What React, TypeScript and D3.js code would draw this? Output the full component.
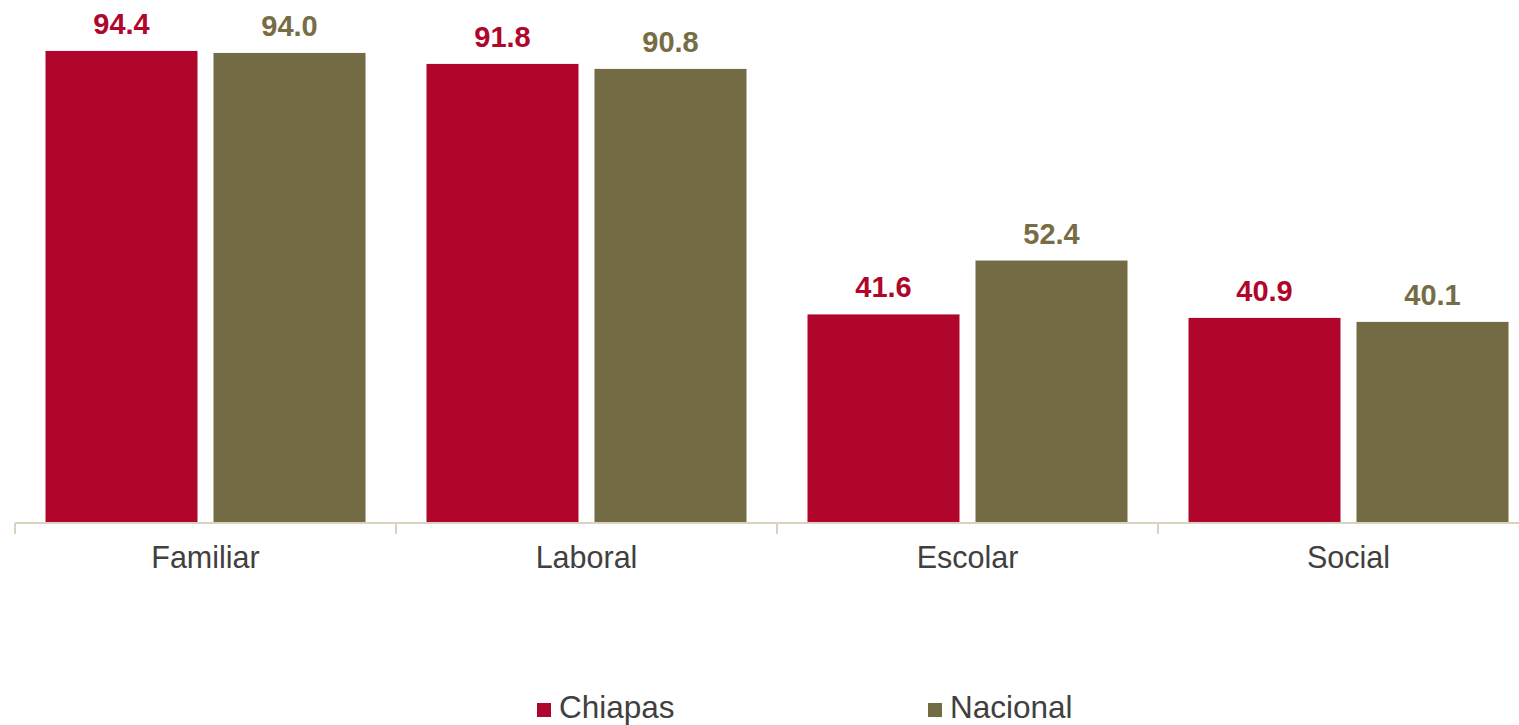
import React from "react";
import * as d3 from "d3";

const categories = ["Familiar", "Laboral", "Escolar", "Social"];
const seriesNames = ["Chiapas", "Nacional"];
const chiapas = [94.4, 91.8, 41.6, 40.9];
const nacional = [94.0, 90.8, 52.4, 40.1];
const seriesColors = ["#b0062c", "#736b43"];
const labelColors = ["#b0062c", "#766d45"];

const W = 1519;
const H = 725;
const FONT = "'Liberation Sans', Arial, sans-serif";

export default function App() {
  const x = d3.scaleBand<string>().domain(categories).range([15, 1539]).paddingInner(0).paddingOuter(0);
  const inner = d3.scaleBand<string>().domain(seriesNames).range([30.5, x.bandwidth() - 30.5]).paddingInner(16 / 168);
  const y = d3.scaleLinear().domain([0, 100]).range([522, 23]);
  const values = [chiapas, nacional];

  const legendX = [537, 928];

  return (
    <svg width={W} height={H} style={{ position: "absolute", left: 0, top: 0, background: "#fff" }} fontFamily={FONT}>
      {categories.map((c, i) =>
        seriesNames.map((s, j) => {
          const v = values[j][i];
          const bx = (x(c) as number) + (inner(s) as number);
          return (
            <g key={c + s}>
              <rect x={bx} y={y(v)} width={inner.bandwidth()} height={y(0) - y(v)} fill={seriesColors[j]} />
              <text
                x={bx + inner.bandwidth() / 2}
                y={y(v) - 17}
                textAnchor="middle"
                fontSize={29}
                fontWeight="bold"
                fill={labelColors[j]}
              >
                {v.toFixed(1)}
              </text>
            </g>
          );
        })
      )}
      <line x1={15} x2={W} y1={523} y2={523} stroke="#d9d3bd" strokeWidth={2} />
      {categories.map((c) => (
        <line key={"t" + c} x1={x(c) as number} x2={x(c) as number} y1={523} y2={534} stroke="#d9d3bd" strokeWidth={2} />
      ))}
      {categories.map((c) => (
        <text
          key={"l" + c}
          x={(x(c) as number) + x.bandwidth() / 2}
          y={568}
          textAnchor="middle"
          fontSize={30.5}
          fill="#404040"
        >
          {c}
        </text>
      ))}
      {seriesNames.map((s, j) => (
        <g key={"lg" + s}>
          <rect x={legendX[j]} y={703} width={14} height={14} fill={seriesColors[j]} />
          <text x={legendX[j] + 22} y={718} fontSize={31.5} fill="#404040">
            {s}
          </text>
        </g>
      ))}
    </svg>
  );
}
